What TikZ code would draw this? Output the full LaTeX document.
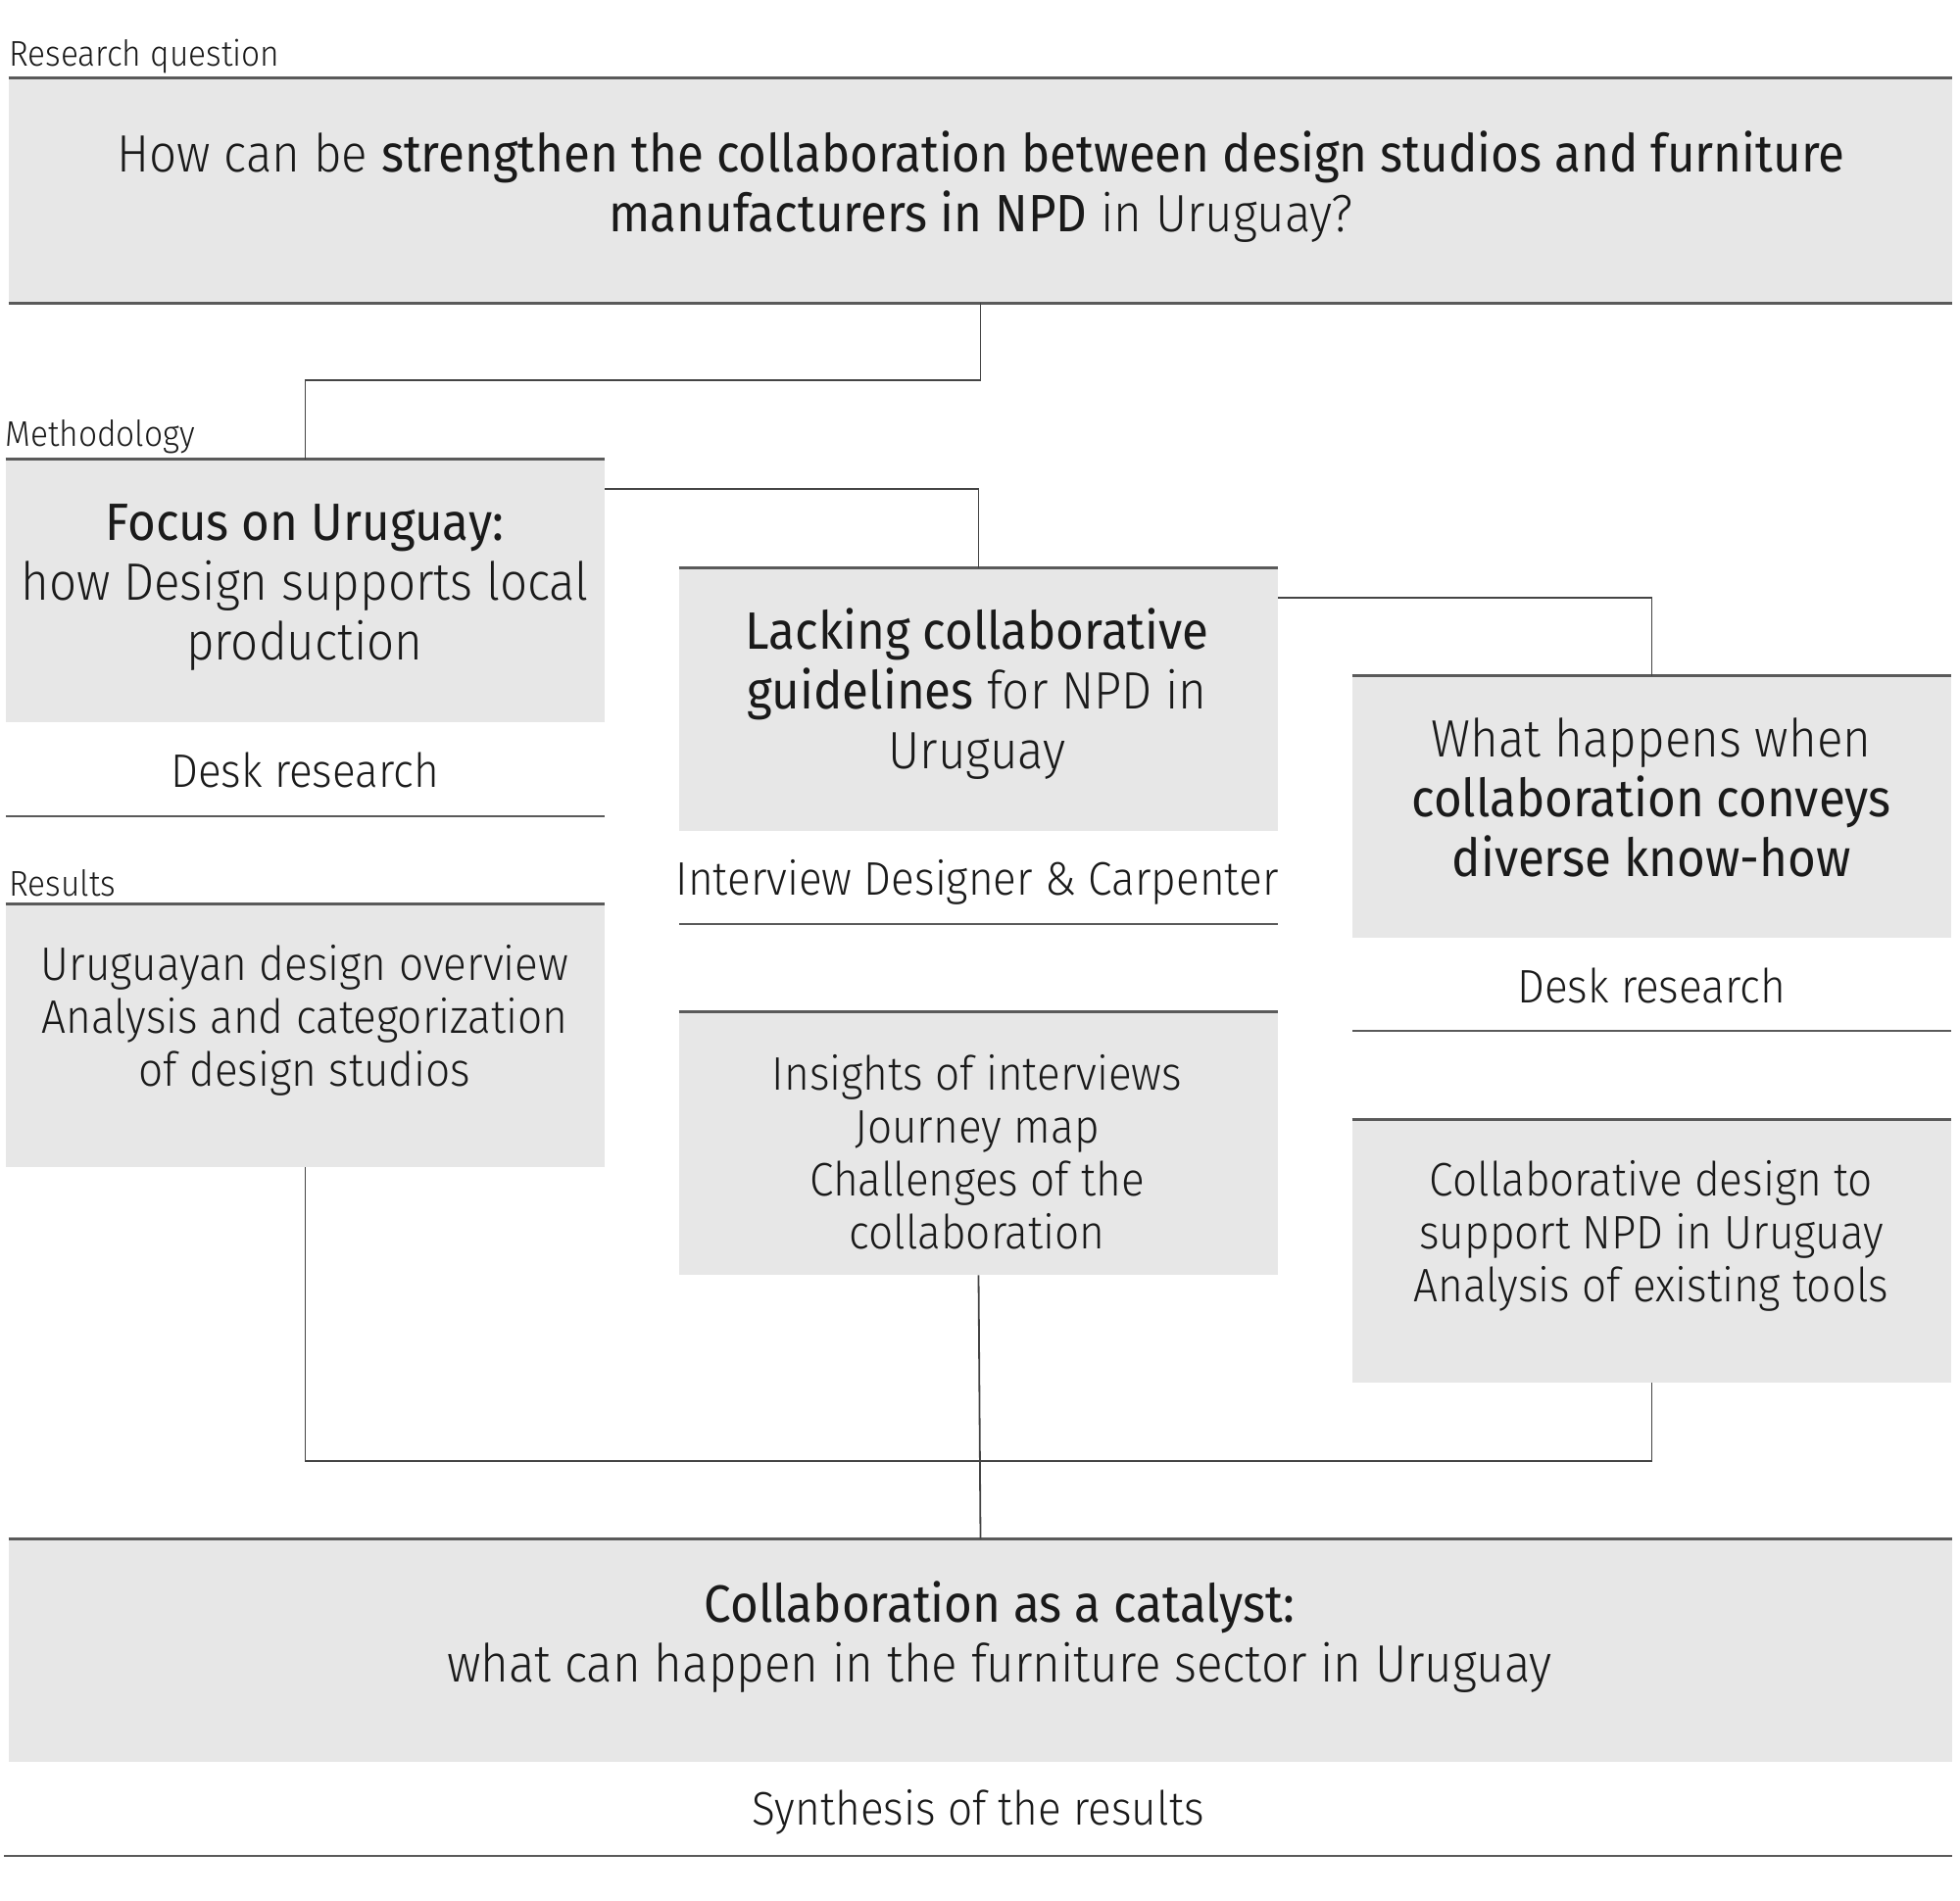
\documentclass[tikz,border=0pt]{standalone}
\usepackage{fontspec}
\setmainfont{Fira Sans Light}[BoldFont={Fira Sans}, FakeStretch=0.92]
\usetikzlibrary{fit,calc}
\definecolor{boxgray}{HTML}{E7E7E7}
\definecolor{rulegray}{HTML}{5A5A5A}
\definecolor{conngray}{HTML}{444444}
\definecolor{ink}{HTML}{1A1A1A}
\begin{document}
\begin{tikzpicture}[x=0.5bp,y=-0.5bp,
  box/.style={fill=boxgray, inner sep=0pt, draw=none},
  rule/.style={draw=rulegray, line width=1.4bp},
  conn/.style={draw=conngray, line width=0.9bp},
  maintext/.style={text=ink, align=center, font=\fontsize{26.8bp}{30.5bp}\selectfont, inner sep=0pt},
  labeltext/.style={text=ink, font=\fontsize{24bp}{28bp}\selectfont, inner sep=0pt},
  restext/.style={text=ink, align=center, font=\fontsize{24bp}{27bp}\selectfont, inner sep=0pt},
  smalltext/.style={text=ink, font=\fontsize{18.2bp}{21bp}\selectfont, inner sep=0pt, anchor=west}]
\path[use as bounding box, fill=white] (0,0) rectangle (2000,1940);

% boxes
\node[box, fit={(9,80) (1992,309)}] (rq) {};
\node[box, fit={(6,469) (617,737)}] (focus) {};
\node[box, fit={(693,580) (1304,848)}] (lack) {};
\node[box, fit={(1380,690) (1991,957)}] (what) {};
\node[box, fit={(6,923) (617,1191)}] (res1) {};
\node[box, fit={(693,1033) (1304,1301)}] (res2) {};
\node[box, fit={(1380,1143) (1991,1411)}] (res3) {};
\node[box, fit={(9,1571) (1992,1798)}] (syn) {};

% rules
\draw[rule] (rq.north west) -- (rq.north east);
\draw[rule] (rq.south west) -- (rq.south east);
\draw[rule] (focus.north west) -- (focus.north east);
\draw[rule] (lack.north west) -- (lack.north east);
\draw[rule] (what.north west) -- (what.north east);
\draw[rule] (res1.north west) -- (res1.north east);
\draw[rule] (res2.north west) -- (res2.north east);
\draw[rule] (res3.north west) -- (res3.north east);
\draw[rule] (syn.north west) -- (syn.north east);
\coordinate (l1a) at (6,833);    \coordinate (l1b) at (617,833);
\coordinate (l2a) at (693,943);  \coordinate (l2b) at (1304,943);
\coordinate (l3a) at (1380,1052);\coordinate (l3b) at (1991,1052);
\coordinate (l4a) at (4,1894);   \coordinate (l4b) at (1992,1894);
\draw[rule] (l1a) -- (l1b);
\draw[rule] (l2a) -- (l2b);
\draw[rule] (l3a) -- (l3b);
\draw[rule] (l4a) -- (l4b);

% connectors
\draw[conn] (rq.south) -- (rq.south |- 0,388) -| (focus.north);
\draw[conn] ($(focus.north east)+(0,30)$) -| (lack.north);
\draw[conn] ($(lack.north east)+(0,30)$) -| (what.north);
\draw[conn] (res1.south) -- (res1.south |- 0,1491) -| (res3.south);
\draw[conn] (res2.south) -- (syn.north);

% small labels
\node[smalltext] (lrq) at (9,58) {Research question};
\node[smalltext] (lmeth) at (5,446) {Methodology};
\node[smalltext] (lres) at (9,901) {Results};

% texts
\node[maintext] (trq) at (1001,191) {How can be \textbf{strengthen the collaboration between design studios and furniture}\\\textbf{manufacturers in NPD} in Uruguay?};
\node[maintext] (tfocus) at (311,600) {\textbf{Focus on Uruguay:}\\how Design supports local\\production};
\node[maintext] (tlack) at (997,708) {\textbf{Lacking collaborative}\\\textbf{guidelines} for NPD in\\Uruguay};
\node[maintext] (twhat) at (1685,814) {What happens when\\\textbf{collaboration conveys}\\\textbf{diverse know-how}};
\node[labeltext] (d1) at (311,786) {Desk research};
\node[labeltext] (d2) at (997,900) {Interview Designer \& Carpenter};
\node[labeltext] (d3) at (1685,1006) {Desk research};
\node[restext] (tres1) at (311,1041) {Uruguayan design overview\\Analysis and categorization\\of design studios};
\node[restext] (tres2) at (997,1176) {Insights of interviews\\Journey map\\Challenges of the\\collaboration};
\node[restext] (tres3) at (1685,1261) {Collaborative design to\\support NPD in Uruguay\\Analysis of existing tools};
\node[maintext] (tsyn) at (1020,1671) {\textbf{Collaboration as a catalyst:}\\what can happen in the furniture sector in Uruguay};
\node[labeltext] (d4) at (998,1849) {Synthesis of the results};
\end{tikzpicture}
\end{document}
